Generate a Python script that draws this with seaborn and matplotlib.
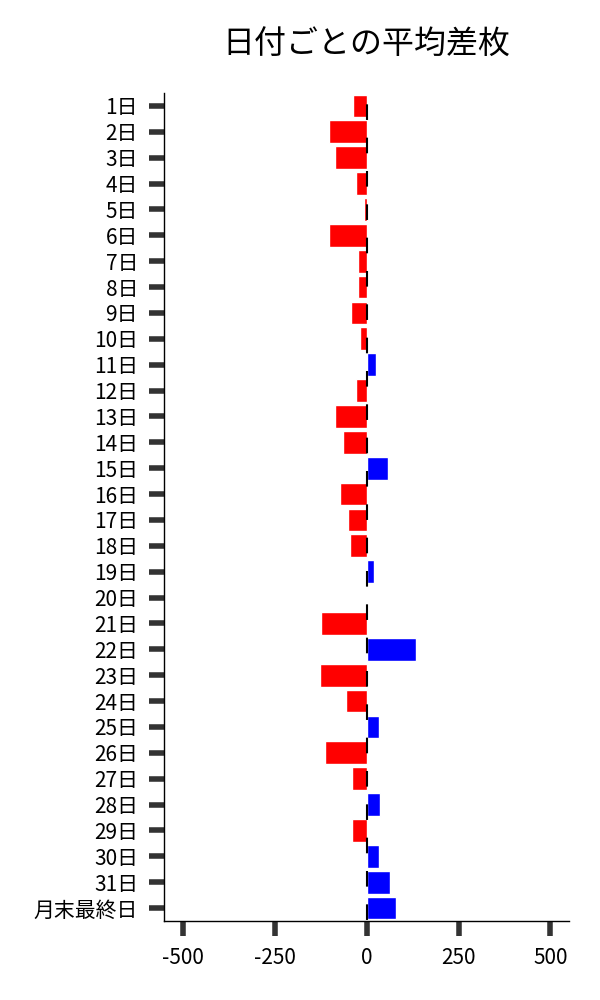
import pandas as pd
import matplotlib.pyplot as plt
import seaborn as sns

# Data
days = [f"{i}日" for i in range(1, 32)] + ["月末最終日"]
avg_diff = [
    -37, -103, -86, -29, -8, -103, -24, -24, -43, -18,
    25, -29, -86, -65, 58, -73, -51, -46, 20, -1,
    -124, 134, -127, -56, 33, -113, -40, 36, -40, 33,
    63, 79,
]
pos_color = "#0000ff"
neg_color = "#ff0000"

df = pd.DataFrame({"day": days, "diff": avg_diff})
df["sign"] = ["pos" if v > 0 else "neg" for v in df["diff"]]

sns.set_style("ticks")
plt.rcParams["font.family"] = ["Noto Sans CJK JP", "DejaVu Sans"]
plt.rcParams["axes.unicode_minus"] = False
plt.rcParams["text.color"] = "black"

fig, ax = plt.subplots(figsize=(6, 10), dpi=100)
fig.subplots_adjust(left=0.274, right=0.948, bottom=0.079, top=0.907)

sns.barplot(data=df, x="diff", y="day", hue="sign", order=days,
            palette={"pos": pos_color, "neg": neg_color}, saturation=1,
            dodge=False, width=0.88, legend=False, ax=ax, zorder=2)
# zero line, dashed, on top of the bars
ax.axvline(0, color="black", linewidth=1.5, zorder=3,
           linestyle=(15.5, (7.5, 8.5)))

ax.set_xlim(-550, 550)
ax.set_xticks([-500, -250, 0, 250, 500])
ax.set_xlabel("")
ax.set_ylabel("")
ax.set_title("日付ごとの平均差枚", fontsize=23, pad=28, color="black")
ax.tick_params(axis="both", length=11, width=4, color="#333333",
               labelsize=15, labelcolor="black", pad=8)
sns.despine(ax=ax)
for s in ["left", "bottom"]:
    ax.spines[s].set_linewidth(1)
    ax.spines[s].set_color("black")

plt.savefig("out.png")
